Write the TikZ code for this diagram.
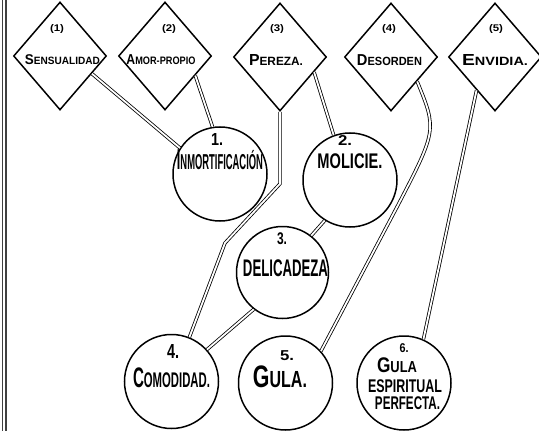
\documentclass[tikz,border=0pt]{standalone}
\usepackage{fontspec}
\setmainfont{Liberation Sans}
\usetikzlibrary{shapes.geometric}
\tikzset{
  virtue/.style={draw, diamond, line width=1.5pt, minimum width=93pt, minimum height=108pt, inner sep=0pt},
  vice/.style={draw, circle, line width=1.5pt, minimum size=94pt, inner sep=0pt},
  link/.style={draw, line width=0.8pt, double=white, double distance=1.8pt},
  lbl/.style={inner sep=0pt, font=\bfseries},
  edge/.style={line width=1pt, black!75}
}
\newcommand{\fitbox}[3]{\resizebox*{#1pt}{#2pt}{#3}}
\newcommand{\smc}[2]{#1\scalebox{0.75}{#2}}
\begin{document}
\begin{tikzpicture}[x=1pt,y=-1pt]
\useasboundingbox (0,0) rectangle (539,431);
\fill[white] (0,0) rectangle (539,431);
% binding edge of the scanned page
\draw[edge] (2.5,0) -- (2.5,431);
\draw[edge, line width=1.6pt] (6,0) -- (6,431);

% diamonds
\node[virtue] (d1) at (60,56) {};
\node[virtue] (d2) at (165,56) {};
\node[virtue] (d3) at (280,57) {};
\node[virtue] (d4) at (391,57) {};
\node[virtue] (d5) at (495,57) {};

\node[lbl] (n1) at (57,29.5) {\fitbox{14}{9}{(1)}};
\node[lbl] (n2) at (169,29.5) {\fitbox{14}{9}{(2)}};
\node[lbl] (n3) at (277,29.5) {\fitbox{14}{9}{(3)}};
\node[lbl] (n4) at (389,29.5) {\fitbox{14}{9}{(4)}};
\node[lbl] (n5) at (496,29.5) {\fitbox{14}{9}{(5)}};

\node[lbl] (t1) at (62.5,60) {\fitbox{75}{10}{\smc{S}{ENSUALIDAD}}};
\node[lbl] (t2) at (161,60) {\fitbox{69}{10}{\smc{A}{MOR-PROPIO}}};
\node[lbl] (t3) at (276,60) {\fitbox{54}{11}{\smc{P}{EREZA.}}};
\node[lbl] (t4) at (389.5,60) {\fitbox{65}{11}{\smc{D}{ESORDEN}}};
\node[lbl] (t5) at (495,60) {\fitbox{66}{11}{\smc{E}{NVIDIA.}}};

% circles
\node[vice] (c1) at (220,174) {};
\node[vice] (c2) at (350,180) {};
\node[vice, minimum size=92pt] (c3) at (282.5,272.5) {};
\node[vice] (c4) at (171.5,381.5) {};
\node[vice] (c5) at (285.5,383) {};
\node[vice] (c6) at (404,383) {};

\node[lbl] (k1) at (217,139) {\fitbox{12}{12}{1.}};
\node[lbl] (m1) at (220,160) {\fitbox{86}{20}{\smc{I}{NMORTIFICACIÓN}}};
\node[lbl] (k2) at (345,140) {\fitbox{14}{10}{2.}};
\node[lbl] (m2) at (350,161) {\fitbox{65}{15}{MOLICIE.}};
\node[lbl] (k3) at (282,239) {\fitbox{10}{12}{3.}};
\node[lbl] (m3) at (285.5,268.5) {\fitbox{85}{17}{DELICADEZA}};
\node[lbl] (k4) at (173,351) {\fitbox{12}{14}{4.}};
\node[lbl] (m4) at (171.5,377.5) {\fitbox{77}{20}{\smc{C}{OMODIDAD.}}};
\node[lbl] (k5) at (287,356) {\fitbox{14}{10}{5.}};
\node[lbl] (m5) at (280,376.5) {\fitbox{54}{22}{\smc{G}{ULA.}}};
\node[lbl] (k6) at (404,348.5) {\fitbox{9}{9}{6.}};
\node[lbl] (m6a) at (397,365) {\fitbox{40}{15}{\smc{G}{ULA}}};
\node[lbl] (m6b) at (405,386.5) {\fitbox{74}{13}{ESPIRITUAL}};
\node[lbl] (m6c) at (407.5,403.5) {\fitbox{65}{13}{PERFECTA.}};

% connectors
\draw[link] (d1.-29) -- (c1.147);
\draw[link] (d2.-33) -- (c1.99);
\draw[link] (d3.south) -- ++(0,72) -- (225,243) -- (c4.68);
\draw[link] (d3.-24) -- (c2.110);
\draw[link] (c2.238) -- (c3.52);
\draw[link] (c3.232) -- (c4.42);
\draw[link] (d4.-43) .. controls (437,130) .. (397,207) -- (c5.42);
\draw[link] (d5.-119) -- (c6.66);
\end{tikzpicture}
\end{document}
